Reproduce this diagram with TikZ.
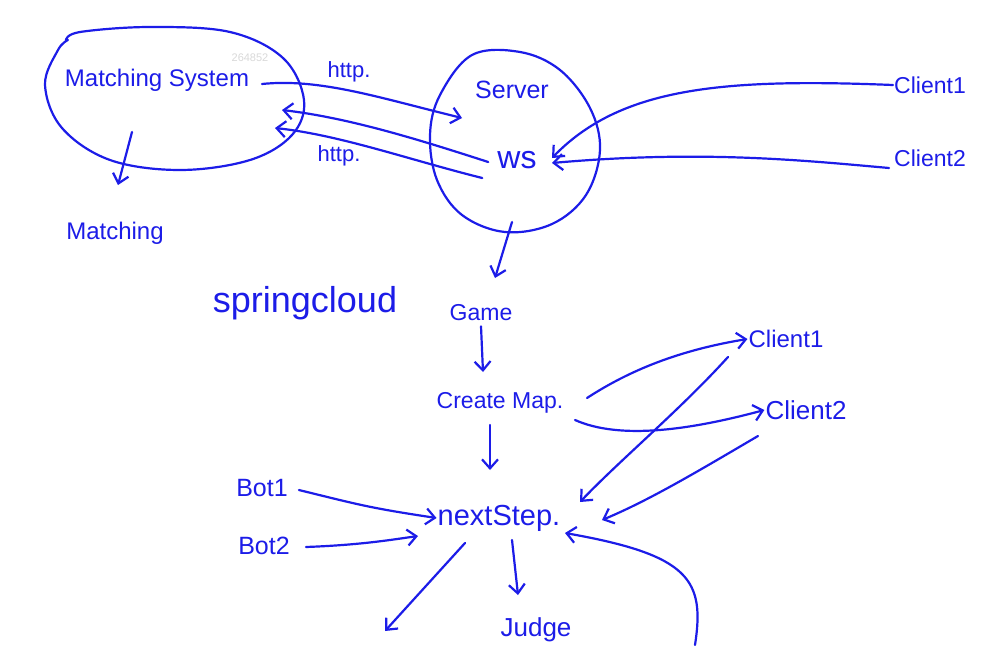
\documentclass[tikz,border=0pt]{standalone}
\usepackage{fontspec}
\setmainfont{Liberation Sans}
\usetikzlibrary{arrows.meta}
\definecolor{ink}{RGB}{28,28,232}
\newcommand\fsz[1]{\fontsize{#1}{#1}\selectfont}
\tikzset{
  pen/.style={draw=ink, line width=2.2pt, line cap=round, line join=round},
  arr/.style={pen, -{Straight Barb[length=9pt,width=16pt,line width=2.2pt]}},
  hand/.style={text=ink, inner sep=1pt}
}
\begin{document}
\begin{tikzpicture}[x=1pt,y=-1pt]
\useasboundingbox (0,0) rectangle (992,645);
\fill[white] (0,0) rectangle (992,645);

% nodes
\node[hand] (ms) at (157,80) {\fsz{24}Matching System};
\node[text=black!15, font=\fsz{11}, inner sep=0pt] (wm) at (250,58) {264852};
\node[hand] (http1) at (349,72) {\fsz{22}http.};
\node[hand] (http2) at (339,156) {\fsz{22}http.};
\node[hand] (server) at (512,90) {\fsz{25}Server};
\node[hand] (ws) at (517,160) {\fsz{32}ws};
\node[hand] (c1a) at (930,85) {\fsz{23}Client1};
\node[hand] (c2a) at (930,158) {\fsz{23}Client2};
\node[hand] (match) at (115,233) {\fsz{24}Matching};
\node[hand] (spring) at (305,303) {\fsz{36}springcloud};
\node[hand] (game) at (481,313) {\fsz{23}Game};
\node[hand] (cmap) at (500,403) {\fsz{23}Create Map.};
\node[hand] (c1b) at (786,339) {\fsz{24}Client1};
\node[hand] (c2b) at (806,410) {\fsz{26}Client2};
\node[hand] (bot1) at (262,488) {\fsz{25}Bot1};
\node[hand] (bot2) at (264,546) {\fsz{25}Bot2};
\node[hand] (next) at (499,518) {\fsz{29}nextStep.};
\node[hand] (judge) at (536,630) {\fsz{26}Judge};

% Matching System ellipse
\draw[pen] plot[smooth, tension=0.6] coordinates {(66,40) (80,32) (150,27) (230,32) (283,58) (304,100) (292,135) (250,160) (180,170) (110,160) (62,128) (45,85) (58,50) (68,40)};
% Server circle
\draw[pen] plot[smooth cycle, tension=0.6] coordinates {(472,55) (520,52) (560,70) (590,108) (600,150) (586,195) (552,224) (505,232) (462,215) (437,180) (430,135) (440,95)};

% outer coordinates
\coordinate (loopstart) at (695,645);
\coordinate (msout) at (262,84);
\coordinate (srvin) at (462,118);
\coordinate (msin1) at (282,110);
\coordinate (msin2) at (275,128);
\coordinate (wsin1) at (552,158);
\coordinate (wsin2) at (552,163);

% connectors
\draw[arr] (msout) .. controls (320,78) and (380,98) .. (srvin);
\draw[arr] (ws.west) ++(-8,2) .. controls (420,140) and (350,118) .. (msin1);
\draw[arr] (ws.west) ++(-14,18) .. controls (410,160) and (340,135) .. (msin2);
\draw[arr] (c1a.west) .. controls (720,78) and (620,88) .. (wsin1);
\draw[arr] (c2a.west) ++(-4,10) .. controls (800,160) and (700,150) .. (wsin2);
\draw[arr] (132,132) -- (118,185);
\draw[arr] (512,222) -- (495,278);
\draw[arr] (game.south) ++(0,4) -- (483,372);
\draw[arr] (490,425) -- (490,470);
\draw[arr] (587,398) .. controls (630,370) and (680,350) .. (c1b.west);
\draw[arr] (575,420) .. controls (620,440) and (690,430) .. (c2b.west);
\draw[arr] (728,357) .. controls (680,410) and (620,460) .. (580,502);
\draw[arr] (758,436) .. controls (700,470) and (650,500) .. (602,520);
\draw[arr] (bot1.east) ++(10,2) .. controls (360,505) and (370,508) .. (next.west);
\draw[arr] (bot2.east) ++(15,1) .. controls (360,545) and (390,540) .. (418,536);
\draw[arr] (465,543) -- (385,631);
\draw[arr] (512,540) -- (518,595);
\draw[arr] (loopstart) .. controls (705,580) and (690,555) .. (565,533);
\end{tikzpicture}
\end{document}
